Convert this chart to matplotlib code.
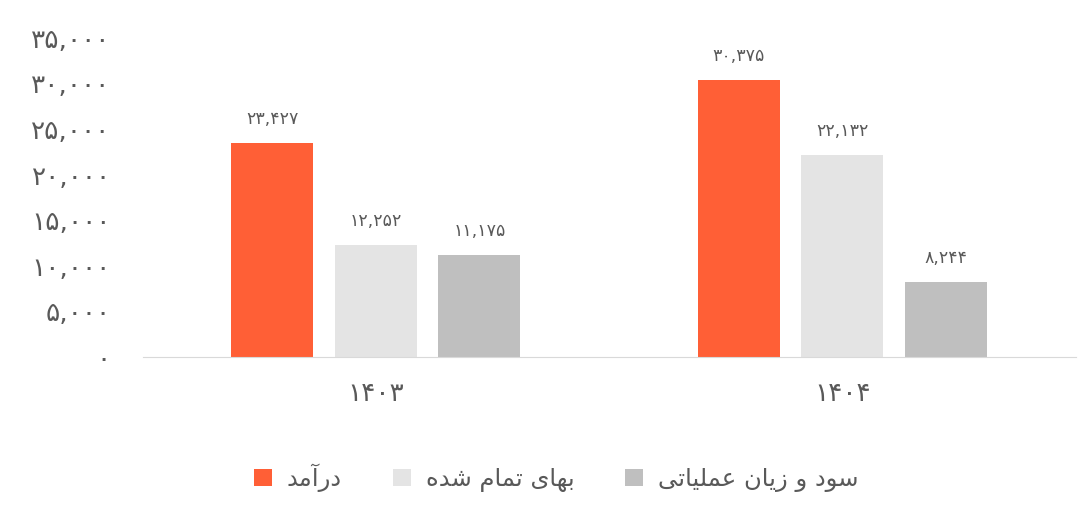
import matplotlib.pyplot as plt
import numpy as np

# داده‌ها
years = ['۱۴۰۳', '۱۴۰۴']
series_names = ['درآمد', 'بهای تمام شده', 'سود و زیان عملیاتی']
revenue = [23427, 30375]
cost = [12252, 22132]
op_profit = [11175, 8244]
y_ticks = [0, 5000, 10000, 15000, 20000, 25000, 30000, 35000]

colors = ['#FF5F36', '#E4E4E4', '#BFBFBF']
text_color = '#595959'

# matplotlib حروف فارسی را به هم نمی‌چسباند، پس شکل‌های نمایشی را دستی می‌سازیم
# (isolated, final, initial, medial)
FORMS = {
    'ا': ('\uFE8D', '\uFE8E', None, None),
    'آ': ('\uFE81', '\uFE82', None, None),
    'ب': ('\uFE8F', '\uFE90', '\uFE91', '\uFE92'),
    'ت': ('\uFE95', '\uFE96', '\uFE97', '\uFE98'),
    'د': ('\uFEA9', '\uFEAA', None, None),
    'ر': ('\uFEAD', '\uFEAE', None, None),
    'ز': ('\uFEAF', '\uFEB0', None, None),
    'س': ('\uFEB1', '\uFEB2', '\uFEB3', '\uFEB4'),
    'ش': ('\uFEB5', '\uFEB6', '\uFEB7', '\uFEB8'),
    'ع': ('\uFEC9', '\uFECA', '\uFECB', '\uFECC'),
    'ل': ('\uFEDD', '\uFEDE', '\uFEDF', '\uFEE0'),
    'م': ('\uFEE1', '\uFEE2', '\uFEE3', '\uFEE4'),
    'ن': ('\uFEE5', '\uFEE6', '\uFEE7', '\uFEE8'),
    'ه': ('\uFEE9', '\uFEEA', '\uFEEB', '\uFEEC'),
    'و': ('\uFEED', '\uFEEE', None, None),
    'ی': ('\uFEEF', '\uFEF0', '\uFEF3', '\uFEF4'),
}


def shape(word):
    out = []
    for i, ch in enumerate(word):
        if ch not in FORMS:
            out.append(ch)
            continue
        prev = word[i - 1] if i > 0 else ''
        nxt = word[i + 1] if i + 1 < len(word) else ''
        joins_prev = prev in FORMS and FORMS[prev][2] is not None
        joins_next = nxt in FORMS and FORMS[ch][2] is not None
        iso, fin, ini, med = FORMS[ch]
        if joins_prev and joins_next:
            out.append(med)
        elif joins_prev:
            out.append(fin)
        elif joins_next:
            out.append(ini)
        else:
            out.append(iso)
    return ''.join(out)


def fa(text):
    words = [shape(w)[::-1] for w in text.split(' ')]
    return ' '.join(words[::-1])


def fa_num(n):
    s = f'{n:,}'
    return s.translate(str.maketrans('0123456789', '۰۱۲۳۴۵۶۷۸۹'))


plt.rcParams['font.family'] = ['DejaVu Sans']

fig = plt.figure(figsize=(10.8, 5.19), dpi=100)
ax = fig.add_axes([0.132, 0.312, 0.864, 0.615])

x = np.arange(len(years))
width = 0.176
step = 0.222
all_series = [revenue, cost, op_profit]

for i, (vals, name, c) in enumerate(zip(all_series, series_names, colors)):
    pos = x + (i - 1) * step
    bars = ax.bar(pos, vals, width, color=c, label=fa(name))
    for b, v in zip(bars, vals):
        ax.annotate(fa_num(v), (b.get_x() + b.get_width() / 2, v),
                    xytext=(0, 11), textcoords='offset points',
                    ha='center', va='bottom', fontsize=12.5, color=text_color)

ax.set_xlim(-0.5, 1.5)
ax.set_ylim(0, 35000)
ax.set_yticks(y_ticks)
ax.set_yticklabels([fa_num(t) for t in y_ticks], fontsize=19, color=text_color)
ax.set_xticks(x)
ax.set_xticklabels(years, fontsize=19, color=text_color)
ax.tick_params(axis='both', length=0)
ax.tick_params(axis='y', pad=23)
ax.tick_params(axis='x', pad=17)

for s in ['top', 'right', 'left']:
    ax.spines[s].set_visible(False)
ax.spines['bottom'].set_color('#D9D9D9')

fig.legend(loc='lower center', bbox_to_anchor=(0.515, 0.01), ncol=3, frameon=False,
           fontsize=17.5, labelcolor=text_color, handlelength=0.75, handleheight=0.75,
           columnspacing=2.1, handletextpad=0.6)

fig.savefig('out.png', dpi=100)
